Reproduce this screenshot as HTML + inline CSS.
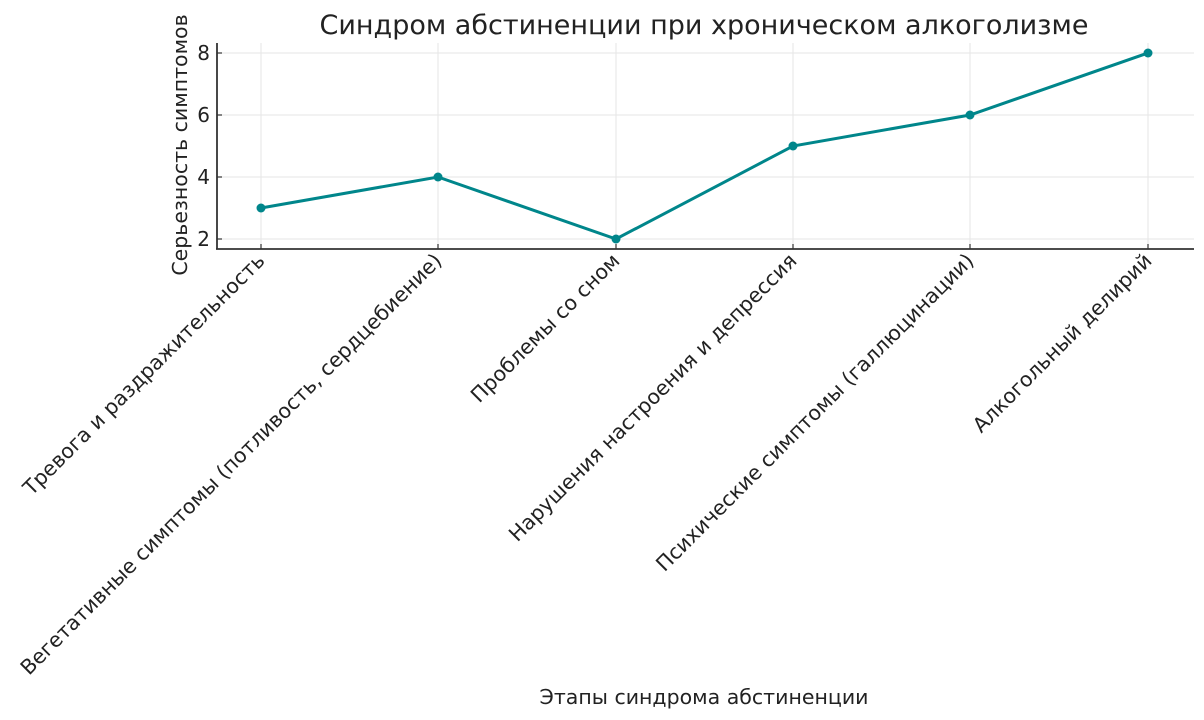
<!DOCTYPE html>
<html><head><meta charset="utf-8"><style>body{margin:0;background:#fff}svg{display:block}text{font-family:"DejaVu Sans","Liberation Sans",sans-serif;fill:#222}</style></head><body>
<svg width="1204" height="720" viewBox="0 0 1204 720">
<g stroke="#e6e6e6" stroke-width="1">
<line x1="217" y1="53" x2="1194" y2="53"/><line x1="217" y1="115" x2="1194" y2="115"/><line x1="217" y1="177" x2="1194" y2="177"/><line x1="217" y1="239" x2="1194" y2="239"/>
<line x1="261" y1="43" x2="261" y2="249"/><line x1="438" y1="43" x2="438" y2="249"/><line x1="616" y1="43" x2="616" y2="249"/><line x1="793" y1="43" x2="793" y2="249"/><line x1="970" y1="43" x2="970" y2="249"/><line x1="1148" y1="43" x2="1148" y2="249"/>
</g>
<g stroke="#333" stroke-width="1.8" fill="none">
<line x1="217" y1="43" x2="217" y2="249"/><line x1="216" y1="249" x2="1194" y2="249"/>
</g>
<g stroke="#333" stroke-width="1.2">
<line x1="217" y1="53" x2="222" y2="53"/><line x1="217" y1="115" x2="222" y2="115"/><line x1="217" y1="177" x2="222" y2="177"/><line x1="217" y1="239" x2="222" y2="239"/>
<line x1="261" y1="249" x2="261" y2="244"/><line x1="438" y1="249" x2="438" y2="244"/><line x1="616" y1="249" x2="616" y2="244"/><line x1="793" y1="249" x2="793" y2="244"/><line x1="970" y1="249" x2="970" y2="244"/><line x1="1148" y1="249" x2="1148" y2="244"/>
</g>
<g font-size="20" text-anchor="end">
<text x="210" y="60">8</text><text x="210" y="122">6</text><text x="210" y="184">4</text><text x="210" y="246">2</text>
</g>
<polyline points="261,208 438,177 616,239 793,146 970,115 1148,53" fill="none" stroke="#00868b" stroke-width="3"/>
<g fill="#00868b"><circle cx="261" cy="208" r="4.5"/><circle cx="438" cy="177" r="4.5"/><circle cx="616" cy="239" r="4.5"/><circle cx="793" cy="146" r="4.5"/><circle cx="970" cy="115" r="4.5"/><circle cx="1148" cy="53" r="4.5"/></g>
<text x="704" y="34" font-size="27" text-anchor="middle">Синдром абстиненции при хроническом алкоголизме</text>
<text transform="translate(187,145) rotate(-90)" font-size="20.5" text-anchor="middle">Серьезность симптомов</text>
<text x="704" y="704" font-size="20.5" text-anchor="middle">Этапы синдрома абстиненции</text>
<g font-size="20.5" text-anchor="end">
<text transform="translate(266,262) rotate(-45)">Тревога и раздражительность</text>
<text transform="translate(443,262) rotate(-45)">Вегетативные симптомы (потливость, сердцебиение)</text>
<text transform="translate(621,262) rotate(-45)">Проблемы со сном</text>
<text transform="translate(798,262) rotate(-45)">Нарушения настроения и депрессия</text>
<text transform="translate(975,262) rotate(-45)">Психические симптомы (галлюцинации)</text>
<text transform="translate(1153,262) rotate(-45)">Алкогольный делирий</text>
</g>
</svg>
</body></html>
